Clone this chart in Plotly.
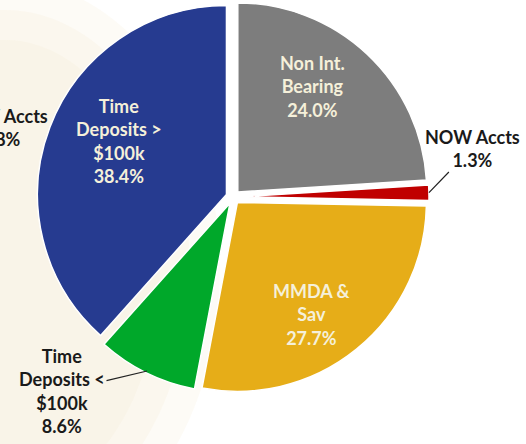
import math
import plotly.graph_objects as go

# ---- data ----
categories = ["Non Int. Bearing", "NOW Accts", "MMDA & Sav", "Time Deposits < $100k", "Time Deposits > $100k"]
label_lines = ["Non Int.<br>Bearing", "NOW Accts", "MMDA &<br>Sav", "Time<br>Deposits <<br>$100k", "Time<br>Deposits ><br>$100k"]
shares = [24.0, 1.3, 27.7, 8.6, 38.4]
colors = ["#7d7d7d", "#c00000", "#e6ad18", "#00a82a", "#263b90"]
inside = [True, False, True, False, True]
cut_label = "NOW Accts<br>1.8%"   # label of the neighbouring (cropped) chart

# ---- geometry / style ----
W, H = 526, 444
CX, CY = 233, 197           # pie centre, pixels from top-left
PULL = 0.037
R = 189                     # slice radius in px
D = 2 * R * (1 + PULL)      # domain side
FONT = "Lato, 'Open Sans', sans-serif"
FS = 18
IN_COLOR = "#f5f0da"
OUT_COLOR = "#1a1a1a"

def px(x):
    return x / W

def py(y):
    return 1 - y / H

dom_x = [px(CX - D / 2), px(CX + D / 2)]
dom_y = [py(CY + D / 2), py(CY - D / 2)]

fig = go.Figure(go.Pie(
    labels=categories,
    values=shares,
    sort=False,
    direction="clockwise",
    rotation=0,
    pull=[PULL] * len(shares),
    marker=dict(colors=colors, line=dict(color="white", width=1.5)),
    textinfo="none",
    hoverinfo="label+percent",
    showlegend=False,
    domain=dict(x=dom_x, y=dom_y),
))

# slice mid-angles (clockwise from 12 o'clock)
total = sum(shares)
mids = []
acc = 0.0
for v in shares:
    mids.append((acc + v / 2) / total * 2 * math.pi)
    acc += v

def polar(angle, rad, pull_angle):
    off = PULL * R
    x = CX + off * math.sin(pull_angle) + rad * math.sin(angle)
    y = CY - off * math.cos(pull_angle) - rad * math.cos(angle)
    return x, y

inside_frac = [0.683, None, 0.711, None, 0.634]
inside_shift = [-0.138, 0, 0.0995, 0, 0.1005]   # angle tweaks (rad)
annotations = []
for i, v in enumerate(shares):
    text = f"{label_lines[i]}<br>{v:.1f}%"
    if inside[i]:
        x, y = polar(mids[i] + inside_shift[i], inside_frac[i] * R, mids[i])
        annotations.append(dict(
            x=px(x), y=py(y), xref="paper", yref="paper", text=text,
            showarrow=False, font=dict(family=FONT, size=FS, color=IN_COLOR, weight="bold"),
            align="center", xanchor="center", yanchor="middle"))

# outside labels with leader lines
out_text_pos = {1: (472, 148), 3: (62, 391)}
out_tip_rad = {1: 1.0, 3: 0.99}
for i, (tx, ty) in out_text_pos.items():
    x, y = polar(mids[i], out_tip_rad[i] * R, mids[i])
    annotations.append(dict(
        x=px(x), y=py(y), xref="paper", yref="paper",
        text=f"{label_lines[i]}<br>{shares[i]:.1f}%",
        showarrow=True, arrowhead=0, arrowwidth=1.2, arrowcolor="#222222",
        ax=tx - x, ay=ty - y, axref="pixel", ayref="pixel",
        font=dict(family=FONT, size=FS, color=OUT_COLOR, weight="bold"),
        align="center", standoff=0, startstandoff=0))

# cropped label of neighbouring chart at the left edge
annotations.append(dict(
    x=px(0), y=py(128), xref="paper", yref="paper", text=cut_label,
    showarrow=False, font=dict(family=FONT, size=FS, color=OUT_COLOR, weight="bold"),
    align="center", xanchor="center", yanchor="middle"))

# faint watermark-like background (soft, layered)
shapes = []
for k, grow in enumerate([60, 30, 0]):
    shapes.append(dict(type="circle", xref="paper", yref="paper", layer="below",
                       x0=px(-150 - grow), x1=px(160 + grow), y0=py(500 + grow), y1=py(40 - grow),
                       fillcolor="#f6e8cc", opacity=0.18, line=dict(width=0)))

fig.update_layout(
    width=W, height=H,
    margin=dict(l=0, r=0, t=0, b=0),
    paper_bgcolor="white",
    plot_bgcolor="white",
    annotations=annotations,
    shapes=shapes,
)

fig.write_html("out.html", config={"displayModeBar": False},
               post_script="document.body.style.margin='0';document.body.style.overflow='hidden';")
